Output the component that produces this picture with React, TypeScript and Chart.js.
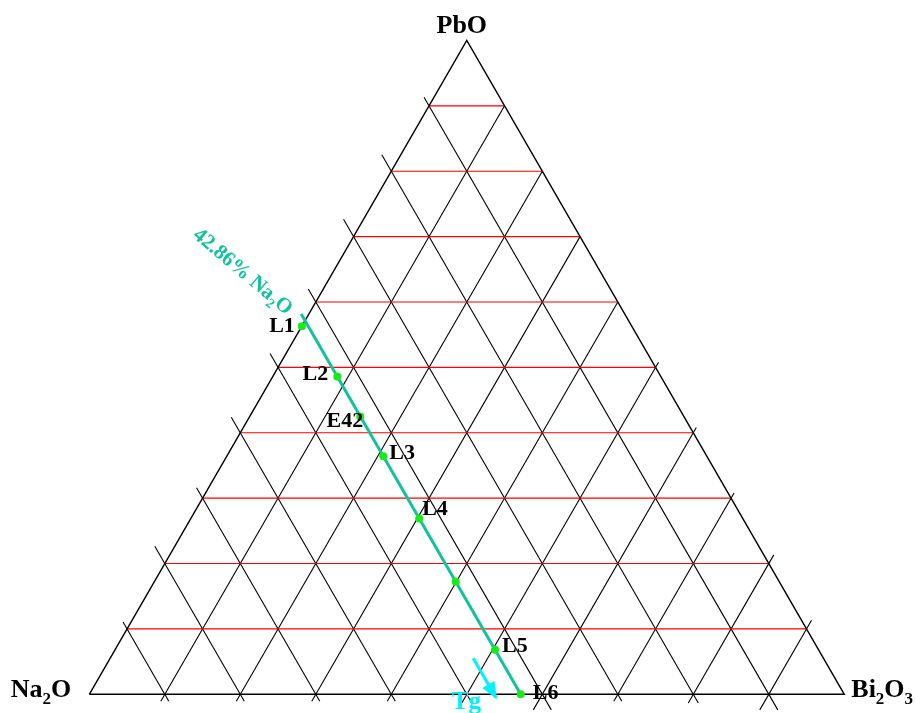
import React, { useEffect, useRef } from "react";
import { Chart, registerables } from "chart.js";

Chart.register(...registerables);

// ---- data (mol %) ----
const gridSteps = [10, 20, 30, 40, 50, 60, 70, 80, 90];
const joinNa2O = 42.86; // the Na2O = 42.86 % join
const sampleNames = ["L1", "L2", "E42", "L3", "L4", "", "L5", "L6"];
const samplePbO = [56.3, 48.6, 42.5, 36.4, 26.9, 17.2, 6.8, 0];
const sampleNa2O = [43.7, 42.86, 42.86, 42.86, 42.86, 42.86, 42.86, 42.86];
const tgNa2O = 46.4;
const tgPbO = [5.5, -0.5];

// ---- styling ----
const W = 915;
const H = 713;
const SIDE = 755; // triangle side in px
const ORIGIN_X = 89.3; // Na2O corner
const ORIGIN_Y = 694.3;
const S3 = Math.sqrt(3) / 2;
const TEAL = "#12c29a";
const GREEN = "#1aea1a";
const CYAN = "#00f0ff";
const SERIF = '"Liberation Serif", "Times New Roman", serif';

// outward tick lengths (px) of the grid lines
const leftTickPx = [10, 19, 20, 15, 16, 18, 12, 20, 8]; // Na2O lines past the left edge
const rightTickPx = [0, 0, 0, 0, 6, 6, 6, 10, 10]; // Bi2O3 lines past the right edge
const bottomTickPx = [8, 8, 8, 8, 10, 18, 8, 10, 18]; // below the base, by Bi2O3 step
const joinTickPx = 7.7;

// label offsets from their points (px): dx, dy, align
const labelOffsets: [number, number, CanvasTextAlign][] = [
  [-7, 6, "right"],
  [-9, 3, "right"],
  [3, 11, "right"],
  [6, 3, "left"],
  [3, -3, "left"],
  [0, 0, "left"],
  [7, 2, "left"],
  [12, 5, "left"],
];

const pct = (px: number) => (px / SIDE) * 100;

// ternary (PbO, Bi2O3 in %) -> cartesian with Na2O at origin, Bi2O3 at (1,0)
function tern(pbo: number, bi: number) {
  return { x: (bi + pbo / 2) / 100, y: (pbo * S3) / 100 };
}

type Part = [string, boolean];

function drawRich(
  ctx: CanvasRenderingContext2D,
  parts: Part[],
  x: number,
  y: number,
  size: number,
  weight: string,
  align: "left" | "center" | "right"
) {
  const big = `${weight} ${size}px ${SERIF}`;
  const small = `${weight} ${Math.round(size * 0.65)}px ${SERIF}`;
  const widths = parts.map(([t, sub]) => {
    ctx.font = sub ? small : big;
    return ctx.measureText(t).width;
  });
  const total = widths.reduce((a, b) => a + b, 0);
  let cx = align === "left" ? x : align === "center" ? x - total / 2 : x - total;
  ctx.textAlign = "left";
  ctx.textBaseline = "alphabetic";
  parts.forEach(([t, sub], i) => {
    ctx.font = sub ? small : big;
    ctx.fillText(t, cx, sub ? y + size * 0.24 : y);
    cx += widths[i];
  });
}

function seg(a: { x: number; y: number }, b: { x: number; y: number }, color: string, width: number, order: number) {
  return {
    data: [a, b],
    showLine: true,
    borderColor: color,
    borderWidth: width,
    pointRadius: 0,
    pointHoverRadius: 0,
    clip: false as const,
    order,
  };
}

export default function App() {
  const ref = useRef<HTMLCanvasElement | null>(null);

  useEffect(() => {
    document.body.style.margin = "0";
    const canvas = ref.current;
    if (!canvas) return;

    const datasets: any[] = [];

    gridSteps.forEach((f, i) => {
      // horizontal PbO lines
      datasets.push(seg(tern(f, 0), tern(f, 100 - f), "#ff0000", 1.1, 5));
      // constant Bi2O3 lines
      const eb = pct(bottomTickPx[i]);
      const er = pct(rightTickPx[i]);
      datasets.push(seg(tern(-eb, f), tern(100 - f + er, f), "#000000", 1.1, 6));
      // constant Na2O lines
      const eb2 = pct(bottomTickPx[8 - i]);
      const el = pct(leftTickPx[i]);
      datasets.push(seg(tern(-eb2, 100 - f + eb2), tern(100 - f + el, -el), "#000000", 1.1, 6));
    });

    // triangle outline
    datasets.push({
      data: [tern(0, 0), tern(0, 100), tern(100, 0), tern(0, 0)],
      showLine: true,
      borderColor: "#000000",
      borderWidth: 1.4,
      pointRadius: 0,
      clip: false,
      order: 4,
    });

    // the 42.86 % Na2O join
    const jt = pct(joinTickPx);
    datasets.push(seg(tern(100 - joinNa2O + jt, -jt), tern(0, 100 - joinNa2O), TEAL, 3, 3));

    // Tg arrow shaft
    const tgA = tern(tgPbO[0], 100 - tgNa2O - tgPbO[0]);
    const tgB = tern(tgPbO[1], 100 - tgNa2O - tgPbO[1]);
    datasets.push(seg(tgA, tgB, CYAN, 3, 3));

    // samples
    datasets.push({
      data: samplePbO.map((p, i) => tern(p, 100 - p - sampleNa2O[i])),
      showLine: false,
      pointRadius: 4,
      pointBackgroundColor: GREEN,
      pointBorderWidth: 0,
      clip: false,
      order: 1,
    });

    const labels = {
      id: "ternaryLabels",
      afterDatasetsDraw(chart: Chart) {
        const ctx = chart.ctx;
        const xs = chart.scales.x;
        const ys = chart.scales.y;
        const px = (p: { x: number; y: number }) => [xs.getPixelForValue(p.x), ys.getPixelForValue(p.y)];
        ctx.save();

        // corner names
        ctx.fillStyle = "#000000";
        const [tx, ty] = px(tern(100, 0));
        drawRich(ctx, [["PbO", false]], tx - 5, ty - 7, 26, "bold", "center");
        const [lx, ly] = px(tern(0, 0));
        drawRich(ctx, [["Na", false], ["2", true], ["O", false]], lx - 18, ly + 3, 26, "bold", "right");
        const [rx, ry] = px(tern(0, 100));
        drawRich(ctx, [["Bi", false], ["2", true], ["O", false], ["3", true]], rx + 7, ry + 3, 26, "bold", "left");

        // sample names
        samplePbO.forEach((p, i) => {
          const name = sampleNames[i];
          if (!name) return;
          const [x, y] = px(tern(p, 100 - p - sampleNa2O[i]));
          const [dx, dy, al] = labelOffsets[i];
          drawRich(ctx, [[name, false]], x + dx, y + dy, 22, "bold", al as any);
        });

        // join label
        const [jx, jy] = px(tern(100 - joinNa2O + jt, -jt));
        ctx.save();
        ctx.translate(jx - 57, jy - 44);
        ctx.rotate((40 * Math.PI) / 180);
        ctx.fillStyle = TEAL;
        drawRich(ctx, [["42.86% Na", false], ["2", true], ["O", false]], 0, 8, 21, "bold", "center");
        ctx.restore();

        // Tg arrow head and label
        const [ax, ay] = px(tgA);
        const [bx, by] = px(tgB);
        const ang = Math.atan2(by - ay, bx - ax);
        ctx.fillStyle = CYAN;
        ctx.beginPath();
        ctx.moveTo(bx + 2 * Math.cos(ang), by + 2 * Math.sin(ang));
        ctx.lineTo(bx - 15 * Math.cos(ang) - 7 * Math.sin(ang), by - 15 * Math.sin(ang) + 7 * Math.cos(ang));
        ctx.lineTo(bx - 15 * Math.cos(ang) + 7 * Math.sin(ang), by - 15 * Math.sin(ang) - 7 * Math.cos(ang));
        ctx.closePath();
        ctx.fill();
        drawRich(ctx, [["Tg", false]], bx - 44, by + 11, 25, "bold", "left");

        ctx.restore();
      },
    };

    const chart = new Chart(canvas, {
      type: "scatter",
      data: { datasets },
      options: {
        animation: false,
        responsive: false,
        devicePixelRatio: 1,
        events: [],
        layout: { padding: 0, autoPadding: false },
        plugins: { legend: { display: false }, tooltip: { enabled: false } },
        scales: {
          x: { type: "linear", display: false, min: -ORIGIN_X / SIDE, max: (W - ORIGIN_X) / SIDE },
          y: { type: "linear", display: false, min: -(H - ORIGIN_Y) / SIDE, max: ORIGIN_Y / SIDE },
        },
      },
      plugins: [labels],
    });

    return () => chart.destroy();
  }, []);

  return (
    <div style={{ position: "absolute", left: 0, top: 0, width: W, height: H, background: "#ffffff" }}>
      <canvas ref={ref} width={W} height={H} style={{ display: "block" }} />
    </div>
  );
}
